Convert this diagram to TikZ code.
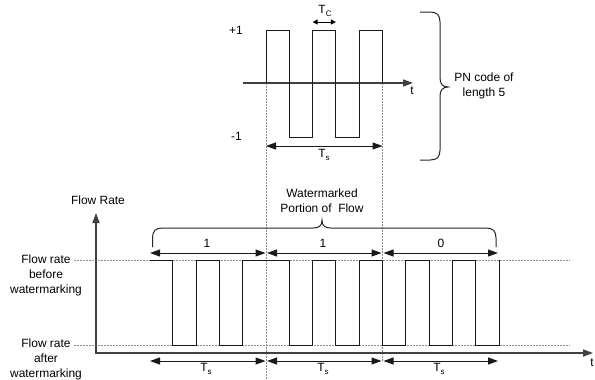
\documentclass[tikz,border=0pt]{standalone}
\usepackage{fontspec}
\setmainfont{Liberation Sans}
\usetikzlibrary{arrows.meta}
\begin{document}
\begin{tikzpicture}[x=1bp,y=-1bp,
  lbl/.style={font=\fontsize{12}{15}\selectfont, inner sep=0pt, align=center},
  axisline/.style={line width=1.4bp, draw=black!75},
  wave/.style={line width=1bp, draw=black!90},
  guide/.style={line width=0.8bp, draw=black!45, dash pattern=on 1.5bp off 1.5bp},
  bigtip/.tip={Triangle[length=10bp,width=7bp]},
  smalltip/.tip={Triangle[length=5bp,width=5bp]},
  dimarrow/.style={line width=1bp, draw=black!90, bigtip-bigtip},
  brace/.style={line width=1bp, draw=black!85}
]
\useasboundingbox (0,0) rectangle (595,379);

% ---------- top plot: PN code ----------
\coordinate (tAxL) at (243,83);
\coordinate (tAxR) at (413,83);
\draw[guide] (266,83) -- (266,379);
\draw[guide] (382.5,83) -- (382.5,362);
\draw[axisline,-bigtip] (tAxL) -- (tAxR);
\node[lbl] (tT) at (412,91) {t};

\draw[wave] (266,83) -- (266,30) -- (289.3,30) -- (289.3,137) -- (312.6,137)
  -- (312.6,30) -- (335.9,30) -- (335.9,137) -- (359.2,137) -- (359.2,30)
  -- (382.5,30) -- (382.5,83);

\node[lbl,anchor=east] (plus) at (243,30) {+1};
\node[lbl,anchor=east] (minus) at (242,136) {-1};

\coordinate (tcL) at (312.6,22);
\coordinate (tcR) at (335.9,22);
\draw[line width=1bp, smalltip-smalltip] (tcL) -- (tcR);
\node[lbl] (tc) at (325,11) {T\raisebox{-0.35ex}{\fontsize{8}{8}\selectfont C}};

\coordinate (tsL) at (266,146);
\coordinate (tsR) at (382.5,146);
\draw[dimarrow] (tsL) -- (tsR);
\node[lbl] (tsTop) at (324,155) {T\raisebox{-0.45ex}{\fontsize{8}{8}\selectfont s}};

% right brace
\draw[brace] (420,12) -- (430,12) .. controls (437,12) and (440,15) .. (440,22)
  -- (440,78) .. controls (440,84) and (443,87) .. (448,87)
  .. controls (443,87) and (440,90) .. (440,96)
  -- (440,150) .. controls (440,157) and (437,160) .. (430,160) -- (420,160);
\node[lbl] (pn) at (484,86) {PN code of\\length 5};

% ---------- bottom plot: flow ----------
\coordinate (yTop) at (96,213);
\coordinate (orig) at (96,353);
\coordinate (xEnd) at (593,353);
\draw[guide] (74,260) -- (570,260);
\draw[guide] (74,345) -- (570,345);
\draw[axisline,bigtip-bigtip] (yTop) -- (orig) -- (xEnd);
\node[lbl] (fr) at (98,200) {Flow Rate};
\node[lbl] (tB) at (592,363) {t};

\node[lbl] (before) at (46,275) {Flow rate\\before\\watermarking};
\node[lbl] (after) at (46,359) {Flow rate\\after\\watermarking};

\draw[wave] (149.5,260) -- (172.8,260) -- (172.8,345) -- (196.1,345) -- (196.1,260)
  -- (219.4,260) -- (219.4,345) -- (242.7,345) -- (242.7,260) -- (289.3,260)
  -- (289.3,345) -- (312.6,345) -- (312.6,260) -- (335.9,260) -- (335.9,345)
  -- (359.2,345) -- (359.2,260) -- (382.5,260) -- (382.5,345) -- (405.8,345)
  -- (405.8,260) -- (429.1,260) -- (429.1,345) -- (452.4,345) -- (452.4,260)
  -- (475.7,260) -- (475.7,345) -- (499,345) -- (499,260);

% bit arrows
\coordinate (b1L) at (150,253); \coordinate (b1R) at (265.5,253);
\coordinate (b2L) at (267,253); \coordinate (b2R) at (381.5,253);
\coordinate (b3L) at (383.5,253); \coordinate (b3R) at (498,253);
\draw[dimarrow] (b1L) -- (b1R);
\draw[dimarrow] (b2L) -- (b2R);
\draw[dimarrow] (b3L) -- (b3R);
\node[lbl] (bit1) at (207,243) {1};
\node[lbl] (bit2) at (323,243) {1};
\node[lbl] (bit3) at (441,243) {0};

% Ts arrows
\coordinate (s1L) at (150,361); \coordinate (s1R) at (265.5,361);
\coordinate (s2L) at (267,361); \coordinate (s2R) at (381.5,361);
\coordinate (s3L) at (383.5,361); \coordinate (s3R) at (498,361);
\draw[dimarrow] (s1L) -- (s1R);
\draw[dimarrow] (s2L) -- (s2R);
\draw[dimarrow] (s3L) -- (s3R);
\node[lbl] (ts1) at (206,369) {T\raisebox{-0.45ex}{\fontsize{8}{8}\selectfont s}};
\node[lbl] (ts2) at (323,369) {T\raisebox{-0.45ex}{\fontsize{8}{8}\selectfont s}};
\node[lbl] (ts3) at (439,369) {T\raisebox{-0.45ex}{\fontsize{8}{8}\selectfont s}};

% watermark brace
\draw[brace] (152.5,247) -- (152.5,238) .. controls (152.5,231) and (155.5,228) .. (162.5,228)
  -- (313,228) .. controls (319,228) and (322,226) .. (322,220)
  .. controls (322,226) and (325,228) .. (331,228)
  -- (486,228) .. controls (493,228) and (496,231) .. (496,238) -- (496,247);
\node[lbl] (wm) at (322,200.5) {Watermarked\\Portion of\ \ Flow};
\end{tikzpicture}
\end{document}
